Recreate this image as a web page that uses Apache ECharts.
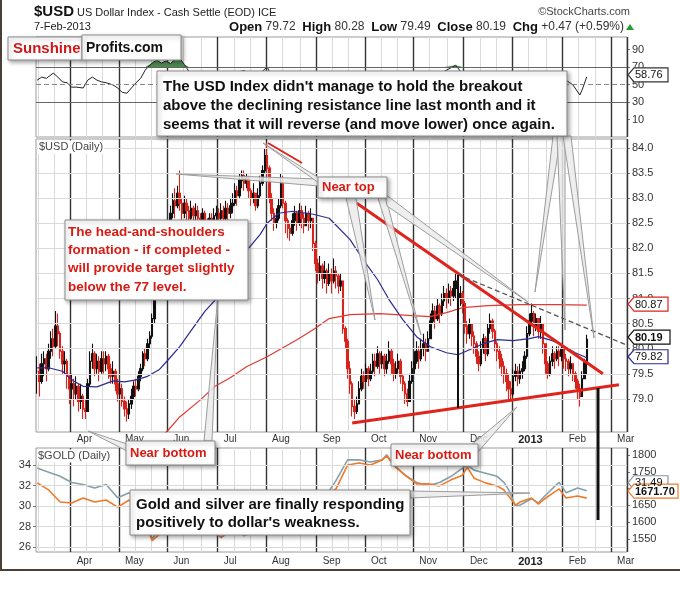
<!DOCTYPE html>
<html><head><meta charset="utf-8"><title>$USD US Dollar Index</title>
<script src="https://cdn.jsdelivr.net/npm/echarts@6.0.0/dist/echarts.min.js"></script>
<style>html,body{margin:0;padding:0;background:#fff;}#chart{width:680px;height:589px;}</style>
</head><body><div id="chart"></div>
<script>
// ---------- DATA ----------
const closes = [
79.55,79.35,79.7,79.8,79.6,79.95,80.2,80.05,80.45,80.3,
79.95,79.7,79.75,79.45,79.2,79.3,79.1,79.25,78.95,79.05,
78.8,78.75,79.3,79.75,79.9,79.6,79.75,79.55,79.8,79.7,
79.85,79.6,79.45,79.55,79.3,79.1,79.2,78.95,78.8,78.7,
78.9,79.05,79.25,79.2,79.45,79.6,79.9,79.8,80.1,80.25,
80.6,81.05,81.5,81.4,81.8,82.1,82.0,82.4,82.7,82.95,
82.85,83.1,82.9,82.7,82.9,82.75,82.6,82.8,82.65,82.75,
82.6,82.5,82.7,82.55,82.4,82.6,82.5,82.65,82.7,82.6,
82.75,82.6,82.8,82.7,82.85,82.9,83.15,83.05,83.35,83.45,
83.3,83.4,83.15,83.0,83.1,82.85,83.05,83.3,83.55,83.85,
83.6,83.0,82.7,82.5,82.6,82.85,83.3,82.9,82.55,82.4,
82.3,82.55,82.7,82.5,82.75,82.6,82.45,82.7,82.55,82.6,
82.1,81.7,81.5,81.65,81.4,81.55,81.3,81.5,81.35,81.55,
81.45,81.25,81.35,80.4,80.15,79.6,79.3,78.85,78.75,78.9,
79.2,79.45,79.35,79.6,79.4,79.55,79.75,79.65,79.9,79.7,
79.85,79.6,79.75,79.95,79.7,79.5,79.6,79.75,79.45,79.3,
79.1,78.95,79.35,79.6,79.75,79.95,79.8,80.0,80.1,79.95,
80.2,80.55,80.75,80.6,80.85,80.7,80.95,81.1,81.0,81.15,
81.05,81.2,81.35,81.0,81.1,80.9,80.45,80.3,80.5,80.25,
80.1,79.85,79.7,80.0,80.2,79.9,80.4,80.55,80.35,80.1,
79.95,79.8,79.65,79.5,79.35,79.2,79.1,79.45,79.55,79.4,
79.55,79.6,79.85,80.3,80.55,80.7,80.45,80.6,80.35,80.5,
80.1,79.7,79.5,79.75,79.9,79.8,79.95,79.85,80.0,79.8,
79.75,79.6,79.7,79.5,79.35,79.2,79.05,79.4,79.72,80.19];
const highs = [
79.85,79.7,79.9,79.95,79.9,80.1,80.35,80.4,80.75,80.7,
80.35,80.05,79.95,79.8,79.5,79.5,79.4,79.45,79.3,79.3,
79.1,79.0,79.4,79.95,80.1,79.95,79.9,79.85,79.95,79.95,
79.95,79.9,79.7,79.75,79.6,79.4,79.35,79.3,79.05,78.95,
79.0,79.2,79.35,79.4,79.55,79.7,79.95,80.0,80.2,80.35,
80.7,81.2,81.65,81.7,81.95,82.25,82.3,82.55,82.85,83.1,
83.2,83.25,83.55,83.0,83.05,83.0,82.85,82.95,82.85,82.9,
82.85,82.7,82.8,82.75,82.6,82.7,82.7,82.8,82.85,82.8,
82.9,82.85,82.95,82.9,83.0,83.1,83.3,83.25,83.5,83.55,
83.55,83.5,83.45,83.2,83.3,83.1,83.2,83.45,83.65,84.0,
84.1,83.65,83.1,82.8,82.8,83.0,83.5,83.45,82.95,82.6,
82.5,82.7,82.85,82.75,82.9,82.85,82.7,82.85,82.75,82.8,
82.6,82.15,81.8,81.85,81.7,81.75,81.6,81.7,81.6,81.8,
81.65,81.5,81.5,81.35,80.45,80.2,79.75,79.35,79.0,79.05,
79.35,79.6,79.55,79.7,79.65,79.7,79.9,79.9,80.05,79.95,
79.95,79.9,79.9,80.15,80.0,79.8,79.75,79.9,79.8,79.5,
79.35,79.2,79.5,79.75,79.95,80.15,80.05,80.2,80.3,80.2,
80.35,80.7,80.9,80.85,81.0,80.9,81.1,81.25,81.2,81.3,
81.25,81.35,81.5,81.4,81.25,81.15,80.95,80.55,80.6,80.5,
80.35,80.15,79.95,80.15,80.3,80.25,80.5,80.7,80.6,80.4,
80.15,80.05,79.9,79.75,79.6,79.5,79.35,79.6,79.7,79.65,
79.7,79.75,79.95,80.45,80.7,80.9,80.75,80.7,80.6,80.65,
80.4,80.1,79.75,79.85,80.05,79.95,80.05,80.05,80.1,80.0,
79.9,79.8,79.85,79.7,79.55,79.4,79.3,79.55,79.8,80.28];
const lows = [
79.1,79.05,79.3,79.45,79.35,79.55,79.8,79.85,80.0,80.05,
79.8,79.5,79.5,79.2,78.9,79.0,78.85,79.0,78.75,78.8,
78.6,78.6,78.75,79.25,79.6,79.45,79.5,79.35,79.5,79.5,
79.55,79.4,79.3,79.3,79.15,78.95,79.0,78.85,78.65,78.55,
78.6,78.8,79.0,79.05,79.15,79.35,79.55,79.65,79.75,80.0,
80.2,80.5,81.0,81.1,81.35,81.75,81.8,81.95,82.35,82.6,
82.6,82.8,82.75,82.5,82.6,82.55,82.4,82.55,82.45,82.5,
82.35,82.3,82.45,82.3,82.2,82.35,82.3,82.45,82.5,82.4,
82.5,82.45,82.55,82.5,82.6,82.7,82.85,82.85,83.0,83.2,
83.15,83.2,83.0,82.85,82.9,82.75,82.8,83.0,83.25,83.5,
83.45,82.9,82.55,82.35,82.4,82.55,82.8,82.8,82.3,82.2,
82.15,82.25,82.45,82.35,82.45,82.4,82.3,82.45,82.35,82.4,
81.95,81.55,81.3,81.35,81.2,81.3,81.1,81.25,81.1,81.3,
81.2,81.1,81.15,80.3,80.0,79.4,79.1,78.65,78.6,78.7,
78.9,79.15,79.2,79.35,79.25,79.35,79.5,79.45,79.6,79.5,
79.6,79.45,79.5,79.7,79.5,79.35,79.4,79.5,79.3,79.15,
78.9,78.85,78.95,79.3,79.5,79.7,79.6,79.75,79.85,79.75,
79.95,80.2,80.5,80.4,80.55,80.5,80.65,80.85,80.8,80.9,
80.85,80.95,81.0,80.85,80.85,80.7,80.3,80.1,80.2,80.05,
79.9,79.7,79.55,79.65,79.9,79.75,79.85,80.3,80.2,79.95,
79.75,79.6,79.45,79.3,79.15,79.0,78.95,79.05,79.35,79.25,
79.3,79.4,79.55,79.8,80.25,80.45,80.25,80.35,80.2,80.2,
79.9,79.5,79.4,79.45,79.65,79.6,79.75,79.65,79.75,79.6,
79.55,79.45,79.5,79.35,79.2,79.0,78.85,79.1,79.4,79.49];

const ma50Idx  = [0,5,11,16,20,26,33,38,43,48,53,57,62,66,73,78,83,91,97,100,105,111,120,127,136,142,148,153,159,165,171,178,183,188,194,200,207,214,218,224,228,234,239];
const ma50Vals = [79.62,79.62,79.55,79.35,79.25,79.24,79.36,79.34,79.38,79.45,79.58,79.78,80.04,80.3,80.75,81.0,81.35,81.95,82.28,82.5,82.7,82.74,82.68,82.6,82.18,81.76,81.38,80.98,80.58,80.24,80.04,79.92,79.88,79.98,80.1,80.18,80.16,80.2,80.24,80.16,80.08,79.92,79.82];
const ma200Idx  = [53,57,62,71,77,84,91,100,113,120,127,136,149,163,171,178,185,196,210,227,239];
const ma200Vals = [78.2,78.38,78.64,78.98,79.24,79.42,79.64,79.84,80.18,80.38,80.6,80.68,80.7,80.66,80.64,80.72,80.82,80.86,80.88,80.88,80.87];

const rsiIdx  = [0,2,4,7,9,11,13,15,17,20,22,24,26,28,30,33,35,37,39,41,43,45,47,50,52,54,56,58,60,62,64,66,70,75,80,85,90,95,100,103,107,110,115,120,125,130,133,137,140,145,150,155,160,163,167,172,177,182,185,188,192,196,200,205,210,215,218,222,226,230,233,236,237,239];
const rsiVals = [55,58.5,57,63,58.5,53,52,47,47,46,55,58.5,55,53,52,49.5,46,41,40,46,52,57,66.5,74.5,78,74.5,77,74,79,80,73,65,60,58,60,63,66,58,70,55,60,52,55,50,42,40,32,25,35,42,48,45,38,40,52,60,65,72,62,48,45,55,45,38,45,60,55,45,52,55,49.5,38,44,58.76];

const metalIdx   = [0,5,10,15,20,25,30,35,40,45,50,55,60,65,70,75,80,85,90,95,100,105,110,115,120,125,130,135,140,145,150,152,155,160,165,170,175,180,185,187,190,195,200,203,205,208,210,215,218,220,225,227,230,235,239];
const goldVals   = [1717,1696,1660,1657,1672,1660,1666,1645,1666,1640,1545,1575,1600,1595,1610,1590,1555,1590,1580,1600,1615,1610,1620,1625,1650,1670,1700,1770,1776,1770,1785,1797,1770,1740,1714,1714,1708,1726,1740,1764,1731,1717,1708,1696,1678,1651,1660,1672,1654,1666,1690,1699,1672,1678,1671.7];
const silverVals = [33.7,33.3,32.9,32.3,32.1,31.75,32.1,30.8,31.3,30.3,26.8,28.2,28.6,28.4,28.6,27.9,26.9,27.8,27.1,27.6,28.0,27.8,28.0,28.2,29.5,30.8,32.5,34.5,34.5,34.3,34.5,35.0,34.0,33.0,32.3,32.0,32.3,32.9,33.7,34.0,33.5,33.2,32.9,32.3,31.6,30.0,30.1,30.7,30.3,30.8,31.9,32.3,31.3,31.75,31.49];

const monthLabels = ['Apr','May','Jun','Jul','Aug','Sep','Oct','Nov','Dec','2013','Feb','Mar'];
const monthStarts = [15,36,57,79,100,122,143,164,186,207,229,250];
const priceTicks  = [79.0,79.5,80.0,80.5,81.0,81.5,82.0,82.5,83.0,83.5,84.0];
const rsiTicks    = [10,30,50,70,90];
const silverTicks = [26,28,30,32,34];
const goldTicks   = [1550,1600,1650,1700,1750,1800];

// analyst trend lines [index, price]
const resistanceLine = [[139,82.9],[246,79.5]];
const supportLine    = [[137,78.52],[253,79.28]];
const dashedLine     = [[183,81.48],[256,80.08]];

// ---------- CHART ----------
const FONT = '"Liberation Sans", Arial, sans-serif';
const chart = echarts.init(document.getElementById('chart'));
const N = 257;
const cats = Array.from({length: N}, (_, i) => String(i));
const monthSet = new Set(monthStarts);
const minorSet = new Set();
const st = [monthStarts[0] - 21].concat(monthStarts, [monthStarts[monthStarts.length - 1] + 21]);
for (let k = 0; k < st.length - 1; k++) {
  [1, 2].forEach(t => { const v = Math.round(st[k] + (st[k + 1] - st[k]) * t / 3); if (v > 0 && v < N) minorSet.add(v); });
}
const pairs = (ix, vals) => ix.map((x, k) => [x, vals[k]]);

function monthAxis(g, showLabels, margin) {
  return {
    type: 'category', gridIndex: g, data: cats, boundaryGap: true, z: 1,
    axisLine: {show: false}, axisTick: {show: false},
    axisLabel: showLabels ? {
      show: true, interval: (i) => monthSet.has(i), align: 'left', padding: [0, 0, 0, 5], margin: margin,
      fontSize: 10, color: '#333', fontFamily: FONT,
      formatter: (v) => { const s = monthLabels[monthStarts.indexOf(Number(v))]; return s === '2013' ? '{b|2013}' : s; },
      rich: {b: {fontWeight: 'bold', fontSize: 11, fontFamily: FONT, color: '#222'}}
    } : {show: false},
    splitLine: {show: true, interval: (i) => monthSet.has(i), lineStyle: {color: '#333', width: 1.4}}
  };
}
function minorAxis(g) {
  return {
    type: 'category', gridIndex: g, data: cats, boundaryGap: true, z: 0,
    axisLine: {show: false}, axisTick: {show: false}, axisLabel: {show: false},
    splitLine: {show: true, interval: (i) => minorSet.has(i), lineStyle: {color: '#dadada', width: 1}}
  };
}
function valAxis(g, pos, min, max, ticks, fmt) {
  return {
    type: 'value', gridIndex: g, position: pos, min: min, max: max, scale: true,
    splitLine: {show: false}, axisLine: {show: false},
    axisTick: {show: true, length: 3, customValues: ticks, lineStyle: {color: '#777'}},
    axisLabel: {customValues: ticks, margin: 5, fontSize: 11, color: '#333', fontFamily: FONT,
      formatter: fmt || (v => String(v))}
  };
}
function gridLines(xi, yi, ticks, style) {
  return {type: 'line', data: [], xAxisIndex: xi, yAxisIndex: yi, z: 1, silent: true,
    markLine: {silent: true, symbol: 'none', animation: false, label: {show: false}, emphasis: {disabled: true},
      lineStyle: style, data: ticks.map(v => ({yAxis: v}))}};
}
const seg = (p, style) => [{coord: p[0], lineStyle: style}, {coord: p[1]}];

const ohlc = closes.map((c, i) => [i === 0 ? c : closes[i - 1], c, lows[i], highs[i]]);
const gridBase = {show: true, borderColor: '#9a9a9a', borderWidth: 1, backgroundColor: '#fff'};

const option = {
  animation: false,
  backgroundColor: '#fff',
  grid: [
    Object.assign({left: 36, right: 53, top: 37, height: 100}, gridBase),
    Object.assign({left: 36, right: 53, top: 139, height: 293}, gridBase),
    Object.assign({left: 36, right: 53, top: 448, height: 104}, gridBase)
  ],
  xAxis: [monthAxis(0, false, 0), minorAxis(0), monthAxis(1, true, 2), minorAxis(1), monthAxis(2, true, 4), minorAxis(2)],
  yAxis: [
    valAxis(0, 'right', -10, 104.3, rsiTicks),
    valAxis(1, 'right', 78.34, 84.18, priceTicks, v => v.toFixed(1)),
    valAxis(2, 'left', 25.51, 35.66, silverTicks),
    valAxis(2, 'right', 1511.3, 1820.8, goldTicks)
  ],
  series: [
    // RSI panel
    gridLines(0, 0, [70, 30], {color: '#666', width: 1, type: 'solid'}),
    gridLines(0, 0, [50], {color: '#888', width: 1, type: [5, 3]}),
    {type: 'line', name: 'rsiBase', xAxisIndex: 0, yAxisIndex: 0, data: rsiIdx.map(x => [x, 70]), stack: 'rsi',
      showSymbol: false, silent: true, lineStyle: {opacity: 0}, z: 2},
    {type: 'line', name: 'rsiOver', xAxisIndex: 0, yAxisIndex: 0, data: rsiIdx.map((x, k) => [x, Math.max(rsiVals[k] - 70, 0)]), stack: 'rsi',
      showSymbol: false, silent: true, lineStyle: {opacity: 0}, areaStyle: {color: '#4e8c4e', opacity: 1}, z: 2},
    {type: 'line', name: 'RSI', xAxisIndex: 0, yAxisIndex: 0, data: pairs(rsiIdx, rsiVals), showSymbol: false,
      lineStyle: {color: '#222', width: 1}, z: 3},
    // main panel
    gridLines(2, 1, priceTicks, {color: '#dadada', width: 1, type: 'solid'}),
    {type: 'candlestick', name: '$USD', xAxisIndex: 2, yAxisIndex: 1, data: ohlc, barWidth: 2, z: 3,
      itemStyle: {color: '#111', color0: '#d8241c', borderColor: '#111', borderColor0: '#d8241c', borderWidth: 1.1}},
    {type: 'line', name: 'MA50', xAxisIndex: 2, yAxisIndex: 1, data: pairs(ma50Idx, ma50Vals), showSymbol: false,
      lineStyle: {color: '#2a2a94', width: 1.2}, z: 4, clip: true},
    {type: 'line', name: 'MA200', xAxisIndex: 2, yAxisIndex: 1, data: pairs(ma200Idx, ma200Vals), showSymbol: false,
      lineStyle: {color: '#e23a32', width: 1.2}, z: 4, clip: true},
    {type: 'line', name: 'annot', xAxisIndex: 2, yAxisIndex: 1, data: [], z: 6, silent: true,
      markLine: {silent: true, symbol: 'none', animation: false, label: {show: false}, emphasis: {disabled: true},
        data: [
          seg(resistanceLine, {color: '#e0241b', width: 3, type: 'solid'}),
          seg(supportLine, {color: '#e0241b', width: 3, type: 'solid'}),
          seg(dashedLine, {color: '#555', width: 1.3, type: [5, 3]})
        ]}},
    // gold / silver panel
    gridLines(4, 2, silverTicks, {color: '#dadada', width: 1, type: 'solid'}),
    {type: 'line', name: '$SILVER', xAxisIndex: 4, yAxisIndex: 2, data: pairs(metalIdx, silverVals), showSymbol: false,
      lineStyle: {color: '#86a0aa', width: 1.6}, z: 3},
    {type: 'line', name: '$GOLD', xAxisIndex: 4, yAxisIndex: 3, data: pairs(metalIdx, goldVals), showSymbol: false,
      lineStyle: {color: '#f07a2a', width: 1.6}, z: 4}
  ]
};
chart.setOption(option);

// ---------- ANNOTATIONS (layout) ----------
const boxStyle = {fill: '#fff', stroke: '#8a8a8a', lineWidth: 1, shadowBlur: 4, shadowOffsetX: 2, shadowOffsetY: 2, shadowColor: 'rgba(0,0,0,0.35)'};
const ptrStyle = {fill: 'rgba(235,235,235,0.85)', stroke: '#9c9c9c', lineWidth: 1};
const G = [];
const txt = (x, y, text, font, fill, extra) => G.push(Object.assign({type: 'text', x: x, y: y, z: 120,
  style: Object.assign({text: text, font: font, fill: fill, textVerticalAlign: 'middle'}, extra || {})}));
const rect = (x, y, w, h, z) => G.push({type: 'rect', z: z || 110, shape: {x: x, y: y, width: w, height: h}, style: boxStyle});
const ptr = (pts) => G.push({type: 'polygon', z: 100, shape: {points: pts}, style: ptrStyle});
const vline = (x, y1, y2, w, c) => G.push({type: 'line', z: 95, shape: {x1: x, y1: y1, x2: x, y2: y2}, style: {stroke: c, lineWidth: w}});

// frame
G.push({type: 'line', z: 130, shape: {x1: 1, y1: 0, x2: 1, y2: 570}, style: {stroke: '#4a4038', lineWidth: 2}});
G.push({type: 'line', z: 130, shape: {x1: 0, y1: 570, x2: 680, y2: 570}, style: {stroke: '#4a4038', lineWidth: 2}});

// header
txt(34, 12, '$USD', 'bold 15px ' + FONT, '#111');
txt(77, 13, 'US Dollar Index - Cash Settle (EOD) ICE', '11px ' + FONT, '#222');
txt(630, 12, '\u00a9StockCharts.com', '11px ' + FONT, '#444', {textAlign: 'right'});
txt(34, 27, '7-Feb-2013', '11px ' + FONT, '#222');
G.push({type: 'text', x: 624, y: 27, z: 120, style: {
  text: '{b|Open} 79.72  {b|High} 80.28  {b|Low} 79.49  {b|Close} 80.19  {b|Chg} +0.47 (+0.59%)',
  font: '12px ' + FONT, fill: '#333', textAlign: 'right', textVerticalAlign: 'middle',
  rich: {b: {font: 'bold 13px ' + FONT, fill: '#111'}}}});
G.push({type: 'polygon', z: 120, shape: {points: [[626, 30], [634, 30], [630, 24]]}, style: {fill: '#2a9a2a'}});

// panel titles
txt(38, 147, '$USD (Daily)', '11px ' + FONT, '#444', {backgroundColor: '#fff', padding: [1, 1, 1, 1]});
txt(37, 456, '$GOLD (Daily)', '11px ' + FONT, '#444', {backgroundColor: '#fff', padding: [1, 1, 1, 1]});

// Sunshine Profits logo
rect(8, 37, 74, 23, 110);
rect(82, 35, 99, 25, 111);
txt(13, 48.5, 'Sunshine', 'bold 15px ' + FONT, '#d41616');
txt(86, 48, 'Profits.com', 'bold 14px ' + FONT, '#111');

// pointers
ptr([[553, 136], [561, 136], [535, 292]]);
ptr([[557, 136], [565, 136], [565, 330]]);
ptr([[563, 136], [571, 136], [594, 338]]);
ptr([[319, 179], [319, 186], [176, 174]]);
ptr([[319, 178], [319, 183], [263, 143]]);
ptr([[346, 198], [356, 198], [375, 320]]);
ptr([[378, 198], [386, 198], [421, 335]]);
ptr([[385, 194], [387, 206], [528, 302]]);
ptr([[127, 444], [127, 451], [88, 431]]);
ptr([[204, 441], [212, 441], [218, 296]]);
ptr([[470, 446], [478, 452], [517, 407]]);
ptr([[410, 491], [410, 498], [530, 493]]);
G.push({type: 'line', z: 101, shape: {x1: 268, y1: 143, x2: 302, y2: 163}, style: {stroke: '#e0241b', lineWidth: 2}});

// analyst vertical lines
vline(458, 275, 408, 2, '#111');
vline(598, 388, 520, 3, '#111');

// callout boxes
rect(157, 71, 410, 65);
txt(163, 87, 'The USD Index didn\'t manage to hold the breakout', 'bold 15px ' + FONT, '#111');
txt(163, 106, 'above the declining resistance line last month and it', 'bold 15px ' + FONT, '#111');
txt(163, 125, 'seems that it will reverse (and move lower) once again.', 'bold 15px ' + FONT, '#111');

rect(65, 220, 183, 80);
txt(68, 232, 'The head-and-shoulders', 'bold 13.5px ' + FONT, '#d81b12');
txt(68, 250, 'formation - if completed -', 'bold 13.5px ' + FONT, '#d81b12');
txt(68, 268, 'will provide target slightly', 'bold 13.5px ' + FONT, '#d81b12');
txt(68, 287, 'below the 77 level.', 'bold 13.5px ' + FONT, '#d81b12');

rect(318, 177, 69, 21);
txt(322, 187.5, 'Near top', 'bold 13px ' + FONT, '#d81b12');

rect(126, 441, 89, 24);
txt(130, 453, 'Near bottom', 'bold 13px ' + FONT, '#d81b12');

rect(391, 444, 87, 22);
txt(395, 455, 'Near bottom', 'bold 13px ' + FONT, '#d81b12');

rect(130, 490, 280, 45);
txt(136, 505, 'Gold and silver are finally responding', 'bold 15px ' + FONT, '#111');
txt(136, 523, 'positively to dollar\'s weakness.', 'bold 15px ' + FONT, '#111');

// value tags on the right axes (positions from the library's scales)
function tag(yAxisIndex, value, text, color, bold, w, dy) {
  const yc = chart.convertToPixel({yAxisIndex: yAxisIndex}, value) + (dy || 0);
  const x0 = 628;
  G.push({type: 'polygon', z: 125, shape: {points: [[x0, yc], [x0 + 6, yc - 7], [x0 + w, yc - 7], [x0 + w, yc + 7], [x0 + 6, yc + 7]]},
    style: {fill: '#fff', stroke: color, lineWidth: 1.2}});
  G.push({type: 'text', x: x0 + 7, y: yc + 0.5, z: 126, style: {text: text, font: (bold ? 'bold ' : '') + '11px ' + FONT,
    fill: '#111', textVerticalAlign: 'middle'}});
}
tag(0, rsiVals[rsiVals.length - 1], '58.76', '#333', false, 40, -2);
tag(1, ma200Vals[ma200Vals.length - 1], '80.87', '#d8241c', false, 40, -1);
tag(1, closes[closes.length - 1], '80.19', '#111', true, 42, -2);
tag(1, ma50Vals[ma50Vals.length - 1], '79.82', '#2a2a94', false, 40, -1);
tag(2, silverVals[silverVals.length - 1], '31.49', '#7f98a3', false, 40, -8);
tag(3, goldVals[goldVals.length - 1], '1671.70', '#f07a2a', true, 50, -7);

chart.setOption({graphic: {elements: G}});
</script></body></html>
